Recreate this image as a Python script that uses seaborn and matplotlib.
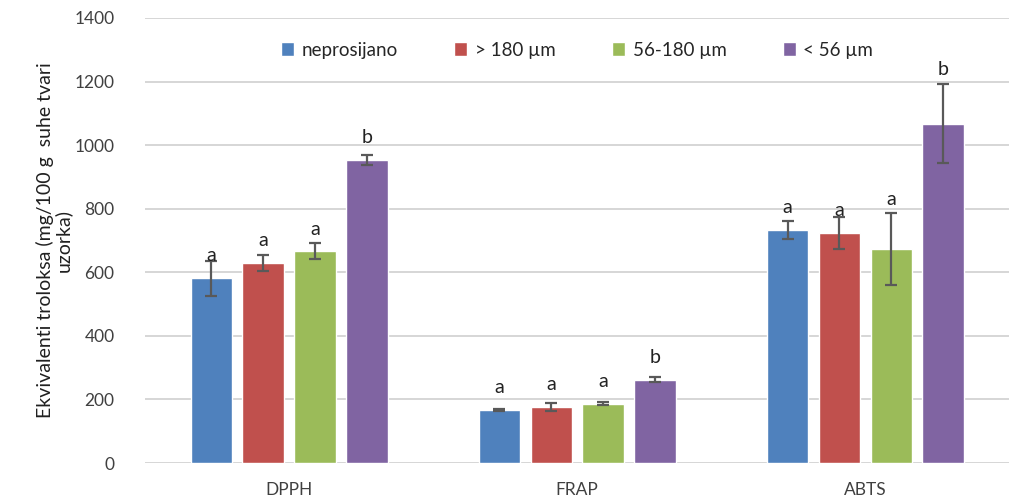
import numpy as np
import pandas as pd
import matplotlib
matplotlib.use("Agg")
import matplotlib.pyplot as plt
import seaborn as sns

categories = ["DPPH", "FRAP", "ABTS"]
series = ["neprosijano", "> 180 µm", "56-180 µm", "< 56 µm"]
values = {
    "neprosijano": [582, 167, 733],
    "> 180 µm": [630, 177, 723],
    "56-180 µm": [666, 186, 673],
    "< 56 µm": [953, 262, 1068],
}
errors = {
    "neprosijano": [55, 3, 28],
    "> 180 µm": [25, 12, 50],
    "56-180 µm": [25, 5, 112],
    "< 56 µm": [16, 8, 124],
}
letters = {
    "neprosijano": ["a", "a", "a"],
    "> 180 µm": ["a", "a", "a"],
    "56-180 µm": ["a", "a", "a"],
    "< 56 µm": ["b", "b", "b"],
}
colors = ["#4F81BD", "#C0504D", "#9BBB59", "#8064A2"]
yticks = [0, 200, 400, 600, 800, 1000, 1200, 1400]

sns.set_theme(style="white")
plt.rcParams['font.family'] = ['Lato', 'DejaVu Sans']

rows = []
for s in series:
    for c, v in zip(categories, values[s]):
        rows.append({"cat": c, "ser": s, "val": v})
df = pd.DataFrame(rows)

fig = plt.figure(figsize=(10.11, 5.04), dpi=100)
ax = fig.add_axes([0.1434, 0.0813, 0.855, 0.883])

sns.barplot(data=df, x="cat", y="val", hue="ser", order=categories,
            hue_order=series, palette=colors, width=0.72, gap=0.2,
            errorbar=None, ax=ax, legend=True, saturation=1)

containers = ax.containers
for s, cont in zip(series, containers):
    for i, patch in enumerate(cont.patches):
        xc = patch.get_x() + patch.get_width() / 2
        h = patch.get_height()
        e = errors[s][i]
        ax.errorbar(xc, h, yerr=e, fmt="none", ecolor="#595959",
                    elinewidth=1.6, capsize=4, capthick=1.6, zorder=5)
        ly = h + 70 if e < 60 else h + e + 45
        ax.text(xc, ly, letters[s][i], ha="center", va="center",
                fontsize=14, color="#222222", zorder=6)

ax.set_ylim(0, 1400)
ax.set_yticks(yticks)
ax.set_yticklabels([str(t) for t in yticks], fontsize=12.5, color="#404040")
ax.set_xlim(-0.5, 2.5)
ax.tick_params(axis="x", labelsize=12.5, colors="#404040", length=0, pad=14)
ax.tick_params(axis="y", length=0, pad=22)
ax.yaxis.grid(True, color="#D0D0D0", linewidth=1.2)
ax.set_axisbelow(True)
for sp in ax.spines.values():
    sp.set_visible(False)
ax.set_xlabel("")
ax.set_ylabel("Ekvivalenti troloksa (mg/100 g  suhe tvari\nuzorka)",
              fontsize=14, color="#202020", labelpad=2, linespacing=1.0)

handles, labels = ax.get_legend_handles_labels()
ax.legend(handles, labels, loc="center", bbox_to_anchor=(0.5, 0.928),
          ncol=4, frameon=False, fontsize=13.5, handlelength=0.7,
          handleheight=0.7, handletextpad=0.4, columnspacing=3.0)

fig.savefig("out.png", dpi=100)
